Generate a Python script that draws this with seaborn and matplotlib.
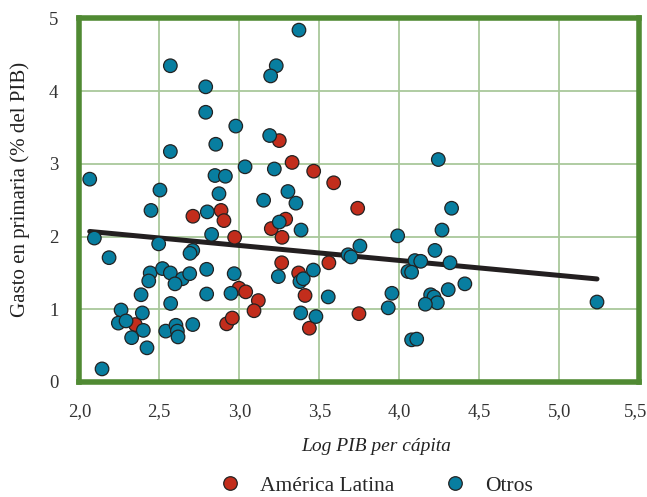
import pandas as pd
import numpy as np
import matplotlib.pyplot as plt
import matplotlib.transforms as mtransforms
import seaborn as sns

# América Latina (rojo)
latam_x = [3.25, 3.33, 3.465, 3.59, 3.74, 2.71, 2.886, 2.904, 3.29, 3.20, 3.267, 2.971, 3.265,
           3.56, 3.371, 3.411, 3.438, 3.748, 2.998, 3.04, 3.119, 3.092, 2.35, 2.921, 2.956]
latam_y = [3.32, 3.02, 2.90, 2.74, 2.39, 2.28, 2.36, 2.22, 2.24, 2.11, 1.99, 1.99, 1.64,
           1.64, 1.50, 1.19, 0.74, 0.94, 1.29, 1.24, 1.12, 0.98, 0.79, 0.80, 0.88]

# Otros (azul)
otros_x = [3.373, 2.569, 3.231, 3.196, 2.79, 2.79, 2.978, 3.19, 2.853, 2.569, 2.065, 3.036, 3.219,
           2.848, 2.913, 2.504, 2.873, 3.304, 3.152, 3.354, 2.448, 2.80, 3.25, 3.386, 2.827, 2.094,
           4.244, 4.327, 4.267, 3.99, 3.754, 4.223, 4.098, 4.134, 4.317, 4.054, 4.077, 4.41, 4.306,
           4.196, 4.217, 4.238, 4.163, 5.236, 4.077, 4.109, 2.496, 2.186, 2.709, 2.692, 2.443, 2.52,
           2.569, 2.644, 2.69, 2.796, 2.968, 2.434, 2.598, 2.386, 2.796, 2.948, 2.571, 2.261, 2.394,
           2.244, 2.292, 2.40, 2.327, 2.423, 2.54, 2.604, 2.613, 2.617, 2.709, 2.142, 3.244, 3.379,
           3.40, 3.463, 3.384, 3.479, 3.556, 3.954, 3.931, 3.68, 3.698]
otros_y = [4.84, 4.35, 4.35, 4.21, 4.06, 3.71, 3.52, 3.39, 3.27, 3.17, 2.79, 2.96, 2.93,
           2.84, 2.83, 2.64, 2.59, 2.62, 2.50, 2.46, 2.36, 2.34, 2.20, 2.09, 2.03, 1.98,
           3.06, 2.39, 2.09, 2.01, 1.87, 1.81, 1.67, 1.66, 1.64, 1.52, 1.51, 1.35, 1.27,
           1.20, 1.17, 1.09, 1.07, 1.10, 0.58, 0.59, 1.90, 1.71, 1.81, 1.77, 1.50, 1.56,
           1.50, 1.42, 1.49, 1.55, 1.49, 1.39, 1.35, 1.20, 1.21, 1.22, 1.08, 0.99, 0.95,
           0.81, 0.84, 0.71, 0.61, 0.47, 0.70, 0.78, 0.70, 0.62, 0.79, 0.18, 1.45, 1.38,
           1.42, 1.54, 0.95, 0.90, 1.17, 1.22, 1.02, 1.75, 1.72]

# recta de tendencia
fit_intercept = 2.496
fit_slope = -0.206

x_ticks = [2.0, 2.5, 3.0, 3.5, 4.0, 4.5, 5.0, 5.5]
x_tick_labels = ['2,0', '2,5', '3,0', '3,5', '4,0', '4,5', '5,0', '5,5']
y_ticks = [0, 1, 2, 3, 4, 5]

df = pd.DataFrame({
    'x': latam_x + otros_x,
    'y': latam_y + otros_y,
    'grupo': ['América Latina'] * len(latam_x) + ['Otros'] * len(otros_x),
})

sns.set_theme(style='white')
plt.rcParams['font.family'] = ['Liberation Serif', 'DejaVu Serif']

green = '#508a33'
grid_green = '#a9c89b'
colors = {'América Latina': '#c22d1c', 'Otros': '#087ea0'}

fig = plt.figure(figsize=(6.47, 4.97), dpi=100)
ax = fig.add_axes([0.1226, 0.2314, 0.8654, 0.7314])

fit_x = np.array([df['x'].min(), df['x'].max()])
ax.plot(fit_x, fit_intercept + fit_slope * fit_x, color='#231f20', lw=3.6,
        solid_capstyle='round', zorder=2)
sns.scatterplot(data=df, x='x', y='y', hue='grupo', hue_order=['América Latina', 'Otros'],
                palette=colors, s=95, edgecolor='#222222', linewidth=0.9, ax=ax, zorder=3)

ax.set_xlim(2.0, 5.5)
ax.set_ylim(0, 5)
ax.set_xticks(x_ticks)
ax.set_xticklabels(x_tick_labels)
ax.set_yticks(y_ticks)
ax.grid(True, color=grid_green, lw=1.3)
ax.set_axisbelow(True)
for sp in ax.spines.values():
    sp.set_visible(True)
    sp.set_color(green)
    sp.set_linewidth(4)
ax.tick_params(length=0, labelsize=13.5, colors='#333333')
ax.tick_params(axis='x', pad=15)
ax.tick_params(axis='y', pad=15)

# la última etiqueta se corre a la izquierda para que no se corte
last = ax.get_xticklabels()[-1]
last.set_horizontalalignment('right')
last.set_transform(last.get_transform() + mtransforms.ScaledTranslation(8 / 100, 0, fig.dpi_scale_trans))

ax.set_xlabel('Log PIB per cápita', fontsize=14, style='italic', color='#222222')
ax.xaxis.set_label_coords(0.53, -0.155)
ax.set_ylabel('Gasto en primaria (% del PIB)', fontsize=15, color='#222222')
ax.yaxis.set_label_coords(-0.088, 0.53)

sns.move_legend(ax, 'center', bbox_to_anchor=(0.52, -0.285), ncol=2, frameon=False,
                title=None, fontsize=15.5, columnspacing=1.8, handletextpad=0.4)

fig.savefig('out.png', dpi=100)
